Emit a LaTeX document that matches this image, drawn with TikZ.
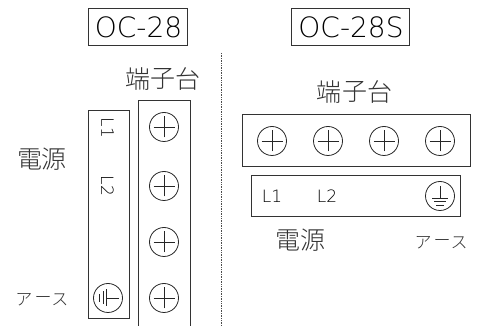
\documentclass[tikz,border=0pt]{standalone}
\usepackage{fontspec}
\setmainfont{Liberation Sans}
\newfontfamily\cjk{Noto Sans CJK JP Light}
\newfontfamily\thinfont{DejaVu Sans ExtraLight}
\tikzset{
  box/.style={draw=black!80,line width=0.9pt},
  screw/.style={circle,draw=black!85,line width=0.8pt,minimum size=29pt,inner sep=0pt},
  modelname/.style={font=\fontsize{28}{28}\selectfont\thinfont,text=black,inner sep=0pt},
  bigjp/.style={font=\fontsize{25}{25}\selectfont\cjk,text=black!80,inner sep=0pt},
  smalljp/.style={font=\fontsize{17}{17}\selectfont\cjk,text=black!80,inner sep=0pt},
  lab/.style={font=\fontsize{17}{17}\selectfont\thinfont,text=black,inner sep=0pt},
  glyph/.style={draw=black!85,line width=0.8pt}
}
\newcommand{\plusin}[1]{\draw[glyph] ([xshift=-10.5pt]#1.center) -- ([xshift=10.5pt]#1.center) ([yshift=-10.5pt]#1.center) -- ([yshift=10.5pt]#1.center);}
\begin{document}
\begin{tikzpicture}[x=1pt,y=-1pt]
\useasboundingbox (0,0) rectangle (483,326);
% titles
\node[box,minimum width=99pt,minimum height=37.5pt,inner sep=0pt] (t1) at (138,27.2) {};
\node[modelname] (t1t) at (138.5,27.5) {OC-28};
\node[box,minimum width=118pt,minimum height=37.5pt,inner sep=0pt] (t2) at (350,27.2) {};
\node[modelname] (t2t) at (351,27.5) {OC-28S};
% divider
\draw[black!70,line width=0.7pt,densely dotted] (221.5,53) -- (221.5,326);
% left unit
\node[bigjp] (a1) at (138,79) {端};
\node[bigjp] (a2) at (163,79) {子};
\node[bigjp] (a3) at (188,79) {台};
\draw[box] (138.5,326) -- (138.5,100.5) -- (190,100.5) -- (190,326);
\draw[box] (88,110) rectangle (129,318);
\foreach \n/\y in {la/127,lb/186,lc/242,ld/298}{
  \node[screw] (\n) at (164,\y) {};
  \plusin{\n}
}
\node[lab,rotate=-90] (l1a) at (107.5,128) {L1};
\node[lab,rotate=-90] (l2a) at (107.5,186) {L2};
\node[screw] (ea) at (108,298) {};
\draw[glyph] (119,298) -- (106,298) (106,289.5) -- (106,306.5) (103,291.5) -- (103,304.5) (99.5,294) -- (99.5,302);
\node[bigjp] (p1) at (30,159) {電};
\node[bigjp] (p2) at (54,159) {源};
\node[smalljp] (e1) at (24,300) {ア};
\node[smalljp] (e2) at (43,300) {ー};
\node[smalljp] (e3) at (60,300) {ス};
% right unit
\node[bigjp] (b1) at (329,92) {端};
\node[bigjp] (b2) at (355,92) {子};
\node[bigjp] (b3) at (380,92) {台};
\draw[box] (242,114.5) rectangle (470,166);
\foreach \n/\x in {ra/272,rb/328,rc/384,rd/440}{
  \node[screw] (\n) at (\x,141) {};
  \plusin{\n}
}
\draw[box] (251.5,175.5) rectangle (460,216);
\node[lab] (l1b) at (272,196) {L1};
\node[lab] (l2b) at (327,196) {L2};
\node[screw] (eb) at (440,196) {};
\draw[glyph] (440,186) -- (440,198) (432,198) -- (448,198) (434,201.5) -- (446,201.5) (436,205) -- (444,205);
\node[bigjp] (q1) at (288,240) {電};
\node[bigjp] (q2) at (313,240) {源};
\node[smalljp] (f1) at (423,243) {ア};
\node[smalljp] (f2) at (442,243) {ー};
\node[smalljp] (f3) at (459,243) {ス};
\end{tikzpicture}
\end{document}
